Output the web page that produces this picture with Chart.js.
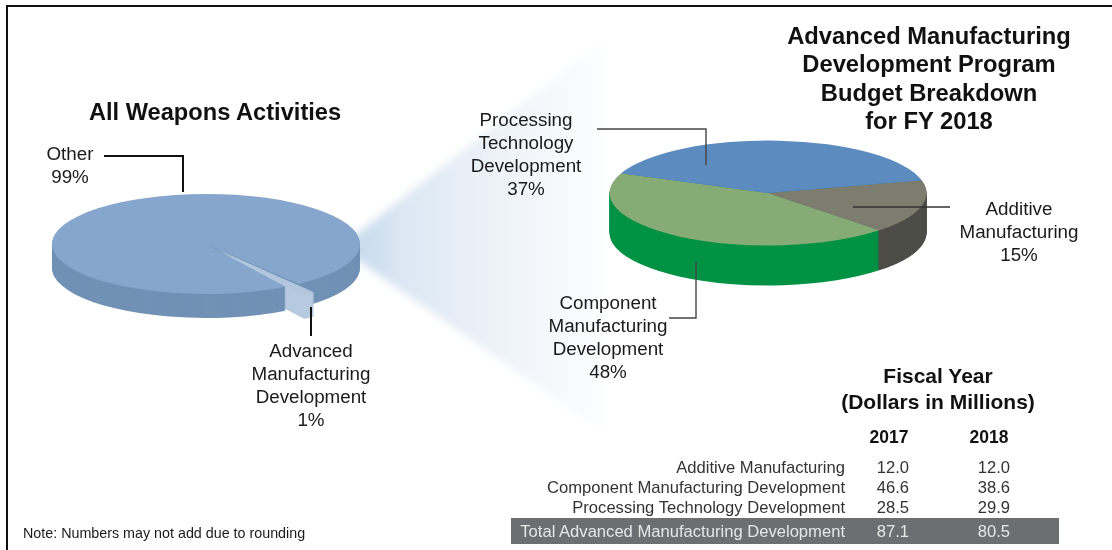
<!DOCTYPE html>
<html>
<head>
<meta charset="utf-8">
<title>Advanced Manufacturing Development Program Budget</title>
<script src="https://cdn.jsdelivr.net/npm/chart.js@4"></script>
<style>
    html, body { margin: 0; padding: 0; background: #fff; }
    #page { position: relative; width: 1112px; height: 550px; overflow: hidden; font-family: "Liberation Sans", Arial, sans-serif; color: #1a1a1a; }
    #page canvas { position: absolute; }
    #frame { position: absolute; left: 6px; top: 5px; width: 1120px; height: 560px; border: 2px solid #111; box-sizing: border-box; }
    #lines { position: absolute; left: 0; top: 0; }
    .label { position: absolute; transform: translate(-50%, -50%); white-space: nowrap; text-align: center; }
    .caption { font-size: 18.8px; line-height: 23px; }
    .heading { font-weight: bold; color: #111; }
    .row { position: absolute; font-size: 16.6px; line-height: 20px; white-space: nowrap; color: #333; }
    #totalBar { position: absolute; left: 511px; top: 518px; width: 548px; height: 26px; background: #6d6e71; }
    #note { position: absolute; left: 23px; top: 525px; font-size: 14.3px; white-space: nowrap; }
</style>
</head>
<body>
<div id="page">
    <svg id="lines" width="1112" height="550">
        <defs>
            <linearGradient id="fanFill" x1="356" y1="0" x2="615" y2="0" gradientUnits="userSpaceOnUse">
                <stop offset="0" stop-color="#c6daec"></stop>
                <stop offset="0.18" stop-color="#dbe7f3"></stop>
                <stop offset="0.5" stop-color="#ebf1f8"></stop>
                <stop offset="0.8" stop-color="#f7f9fc"></stop>
                <stop offset="1" stop-color="#ffffff"></stop>
            </linearGradient>
            <filter id="fanBlur" x="-10%" y="-10%" width="120%" height="120%">
                <feGaussianBlur stdDeviation="4"></feGaussianBlur>
            </filter>
        </defs>
        <polygon points="352,238 615,31 615,440 352,256" fill="url(#fanFill)" filter="url(#fanBlur)"></polygon>
    </svg>
    <canvas id="weaponsPie" style="left:6px;top:44px"></canvas>
    <canvas id="budgetPie" style="left:568px;top:-7px"></canvas>
    <svg id="leaders" width="1112" height="550" style="position:absolute;left:0;top:0" fill="none">
        <polyline points="104,156 183,156 183,192" stroke="#111" stroke-width="2"></polyline>
        <polyline points="311,307 311,336" stroke="#111" stroke-width="2"></polyline>
        <polyline points="597,129 706,129 706,165" stroke="#444" stroke-width="1.4"></polyline>
        <polyline points="853,207 950,207" stroke="#333" stroke-width="1.4"></polyline>
        <polyline points="696,262 696,318 669,318" stroke="#444" stroke-width="1.4"></polyline>
    </svg>
    <div id="frame"></div>
    <div id="texts"></div>
    <div id="totalBar"></div>
    <div id="table"></div>
    <div id="note">Note: Numbers may not add due to rounding</div>
</div>

<script>
    // Left pie: slices as drawn (the 1% wedge is drawn wider than its label says)
    const weaponsCategories = ['Other', 'Advanced Manufacturing Development'];
    const weaponsDrawnShares = [98.4, 1.6];
    const weaponsColors = ['#86a6cd', '#b2c7de'];
    const weaponsSideColors = ['#7191b5', '#b6cadf'];

    // Right pie: slices as drawn, measured off the top face
    const budgetCategories = ['Additive Manufacturing', 'Component Manufacturing Development', 'Processing Technology Development'];
    const budgetDrawnShares = [16.5, 43.5, 40];
    const budgetColors = ['#7d7d6f', '#86ab74', '#5b8bbf'];
    const budgetSideColors = ['#4d4d47', '#009245', '#3f6f9f'];

    // Table
    const tableYears = ['2017', '2018'];
    const values2017 = ['12.0', '46.6', '28.5'];
    const values2018 = ['12.0', '38.6', '29.9'];
    const totalLabel = 'Total Advanced Manufacturing Development';
    const total2017 = '87.1';
    const total2018 = '80.5';

    // Squash the pie into an ellipse and stack it to get the 3D side wall
    const tiltPlugin = {
        id: 'tilt',
        beforeDatasetsDraw(chart, args, opts) {
            const ctx = chart.ctx;
            const arcs = chart.getDatasetMeta(0).data;
            const cx = arcs[0].x;
            const cy = arcs[0].y;
            ctx.save();
            ctx.translate(cx, cy);
            ctx.scale(1, opts.squash);
            ctx.translate(-cx, -cy);
            // side wall, back to front
            for (let d = opts.depth; d > 0; d--) {
                ctx.save();
                ctx.translate(0, d / opts.squash);
                arcs.forEach((arc, i) => {
                    const real = arc.options;
                    arc.options = Object.assign(Object.create(real), { backgroundColor: opts.sides[i] });
                    arc.draw(ctx);
                    arc.options = real;
                });
                ctx.restore();
            }
        },
        afterDatasetsDraw(chart) {
            chart.ctx.restore();
        },
    };

    function makePie(id, size, labels, data, colors, rotation, radius, offsets, tilt) {
        const canvas = document.getElementById(id);
        canvas.width = size;
        canvas.height = size;
        canvas.style.width = size + 'px';
        canvas.style.height = size + 'px';
        return new Chart(canvas, {
            type: 'pie',
            data: {
                labels: labels,
                datasets: [{
                    data: data,
                    backgroundColor: colors,
                    borderWidth: 0,
                    offset: offsets,
                    clip: false,
                }],
            },
            options: {
                responsive: false,
                animation: false,
                rotation: rotation,
                radius: radius,
                layout: { padding: 0 },
                plugins: {
                    legend: { display: false },
                    tooltip: { enabled: false },
                    tilt: tilt,
                },
            },
            plugins: [tiltPlugin],
        });
    }

    makePie('weaponsPie', 400, weaponsCategories, weaponsDrawnShares, weaponsColors, 148.8, 154, [0, 64],
        { squash: 0.325, depth: 24, sides: weaponsSideColors });
    makePie('budgetPie', 400, budgetCategories, budgetDrawnShares, budgetColors, 76, 158.5, [0, 0, 0],
        { squash: 0.331, depth: 40, sides: budgetSideColors });

    // Text
    const texts = document.getElementById('texts');
    function addLabel(x, y, lines, cls, size) {
        const el = document.createElement('div');
        el.className = 'label ' + cls;
        el.style.left = x + 'px';
        el.style.top = y + 'px';
        if (size) el.style.fontSize = size + 'px';
        el.innerHTML = lines.join('<br>');
        texts.appendChild(el);
        return el;
    }
    addLabel(215, 112, ['All Weapons Activities'], 'heading', 23.65).style.lineHeight = '28px';
    addLabel(70, 164.5, ['Other', '99%'], 'caption');
    addLabel(311, 384.5, ['Advanced', 'Manufacturing', 'Development', '1%'], 'caption');
    addLabel(526, 153.5, ['Processing', 'Technology', 'Development', '37%'], 'caption');
    addLabel(1019, 231, ['Additive', 'Manufacturing', '15%'], 'caption');
    addLabel(608, 336.5, ['Component', 'Manufacturing', 'Development', '48%'], 'caption');
    addLabel(929, 78.5, ['Advanced Manufacturing', 'Development Program', 'Budget Breakdown', 'for FY 2018'], 'heading', 23.75).style.lineHeight = '28.5px';
    addLabel(938, 389, ['Fiscal Year', '(Dollars in Millions)'], 'heading', 21).style.lineHeight = '26px';
    addLabel(889, 437, [tableYears[0]], 'heading', 17.5);
    addLabel(989, 437, [tableYears[1]], 'heading', 17.5);

    // Table rows, right aligned
    const table = document.getElementById('table');
    function addCell(right, y, text, color) {
        const el = document.createElement('div');
        el.className = 'row';
        el.style.right = (1112 - right) + 'px';
        el.style.top = (y - 10) + 'px';
        if (color) el.style.color = color;
        el.textContent = text;
        table.appendChild(el);
    }
    budgetCategories.forEach((name, i) => {
        const y = 468 + i * 20;
        addCell(845, y, name);
        addCell(909, y, values2017[i]);
        addCell(1010, y, values2018[i]);
    });
    addCell(845, 532, totalLabel, '#e6e6e6');
    addCell(909, 532, total2017, '#e6e6e6');
    addCell(1010, 532, total2018, '#e6e6e6');
</script>
</body>
</html>
